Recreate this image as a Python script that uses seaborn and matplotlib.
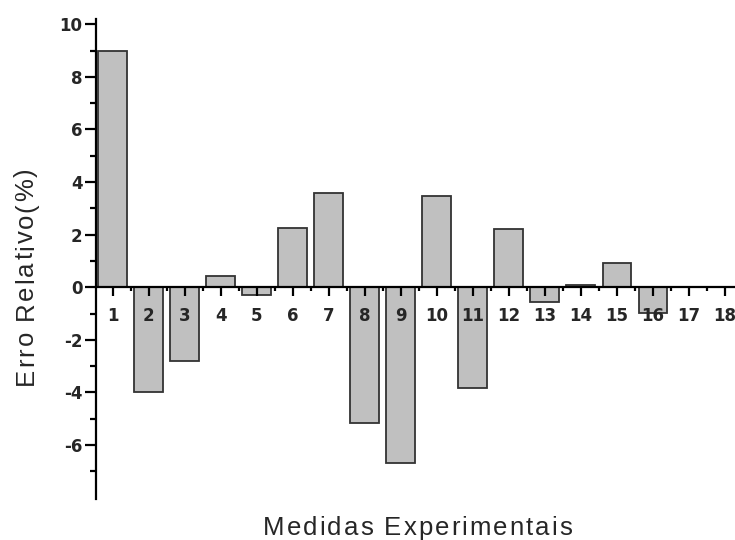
import matplotlib
matplotlib.use("Agg")
import matplotlib.pyplot as plt
import seaborn as sns
import numpy as np
import pandas as pd
from matplotlib.ticker import FixedLocator

categories = [str(i) for i in range(1, 19)]
values = [9.0, -4.0, -2.8, 0.42, -0.28, 2.25, 3.58, -5.15, -6.7,
          3.47, -3.82, 2.2, -0.57, 0.07, 0.92, -0.99, 0.0, 0.0]
y_ticks = [-6, -4, -2, 0, 2, 4, 6, 8, 10]
x_label = "Medidas Experimentais"
y_label = "Erro Relativo(%)"

df = pd.DataFrame({"cat": categories, "val": values})

sns.set_style("white")
plt.rcParams['font.family'] = ['Liberation Sans', 'DejaVu Sans']

W, H = 735, 540
fig = plt.figure(figsize=(7.35, 5.4), dpi=100)
ax = fig.add_axes([96/W, 1 - 499/H, 647/W, (499 - 19)/H])

sns.barplot(data=df, x="cat", y="val", order=categories, color="#c0c0c0",
            saturation=1, edgecolor="#333333", linewidth=1.3, width=0.8, ax=ax)

ax.set_xlim(-0.46, 17.5)
ax.set_ylim(-8.05, 10.2)

for s in ["top", "right"]:
    ax.spines[s].set_visible(False)
ax.spines["bottom"].set_position(("data", 0))
for s in ["bottom", "left"]:
    ax.spines[s].set_linewidth(1.6)
    ax.spines[s].set_color("black")
ax.set_axisbelow(False)

ax.yaxis.set_major_locator(FixedLocator(y_ticks))
ax.yaxis.set_minor_locator(FixedLocator([-7, -5, -3, -1, 1, 3, 5, 7, 9]))
ax.xaxis.set_minor_locator(FixedLocator(np.arange(0.5, 17.6, 1.0)))

ax.tick_params(which="both", bottom=True, left=True, top=False, right=False)
ax.tick_params(axis="y", which="major", direction="out", length=7.7, width=1.6,
               pad=2, labelsize=12, color="black")
ax.tick_params(axis="y", which="minor", direction="out", length=4, width=1.6, color="black")
ax.tick_params(axis="x", which="major", direction="out", length=6.5, width=1.6,
               pad=8, labelsize=12, color="black")
ax.tick_params(axis="x", which="minor", direction="out", length=3, width=1.6, color="black")
ax.set_yticklabels([str(t) for t in y_ticks])
for lab in ax.get_xticklabels() + ax.get_yticklabels():
    lab.set_fontweight("bold")
    lab.set_fontfamily("DejaVu Sans")

ax.set_xlabel("")
ax.set_ylabel("")

renderer = fig.canvas.get_renderer()


def text_width(s, size):
    t = fig.text(0, 0, s, fontsize=size)
    w = t.get_window_extent(renderer).width
    t.remove()
    return w


def spaced_text(s, start_px, baseline_px, target_len, size, vertical=False):
    sentinel = "|"
    ws = text_width(sentinel, size)
    offs = [text_width(s[:i] + sentinel, size) - ws for i in range(len(s))]
    natural = text_width(s, size)
    gap = (target_len - natural) / (len(s) - 1)
    for i, ch in enumerate(s):
        if ch == " ":
            continue
        d = offs[i] + i * gap
        if vertical:
            x, y = baseline_px, start_px - d
            fig.text(x / W, 1 - y / H, ch, fontsize=size, rotation=90,
                     rotation_mode="anchor", ha="left", va="baseline")
        else:
            x, y = start_px + d, baseline_px
            fig.text(x / W, 1 - y / H, ch, fontsize=size,
                     ha="left", va="baseline")


spaced_text(x_label, 263, 535, 309, 18.5)
spaced_text(y_label, 385, 33, 217, 18.5, vertical=True)

fig.savefig("out.png", dpi=100)
